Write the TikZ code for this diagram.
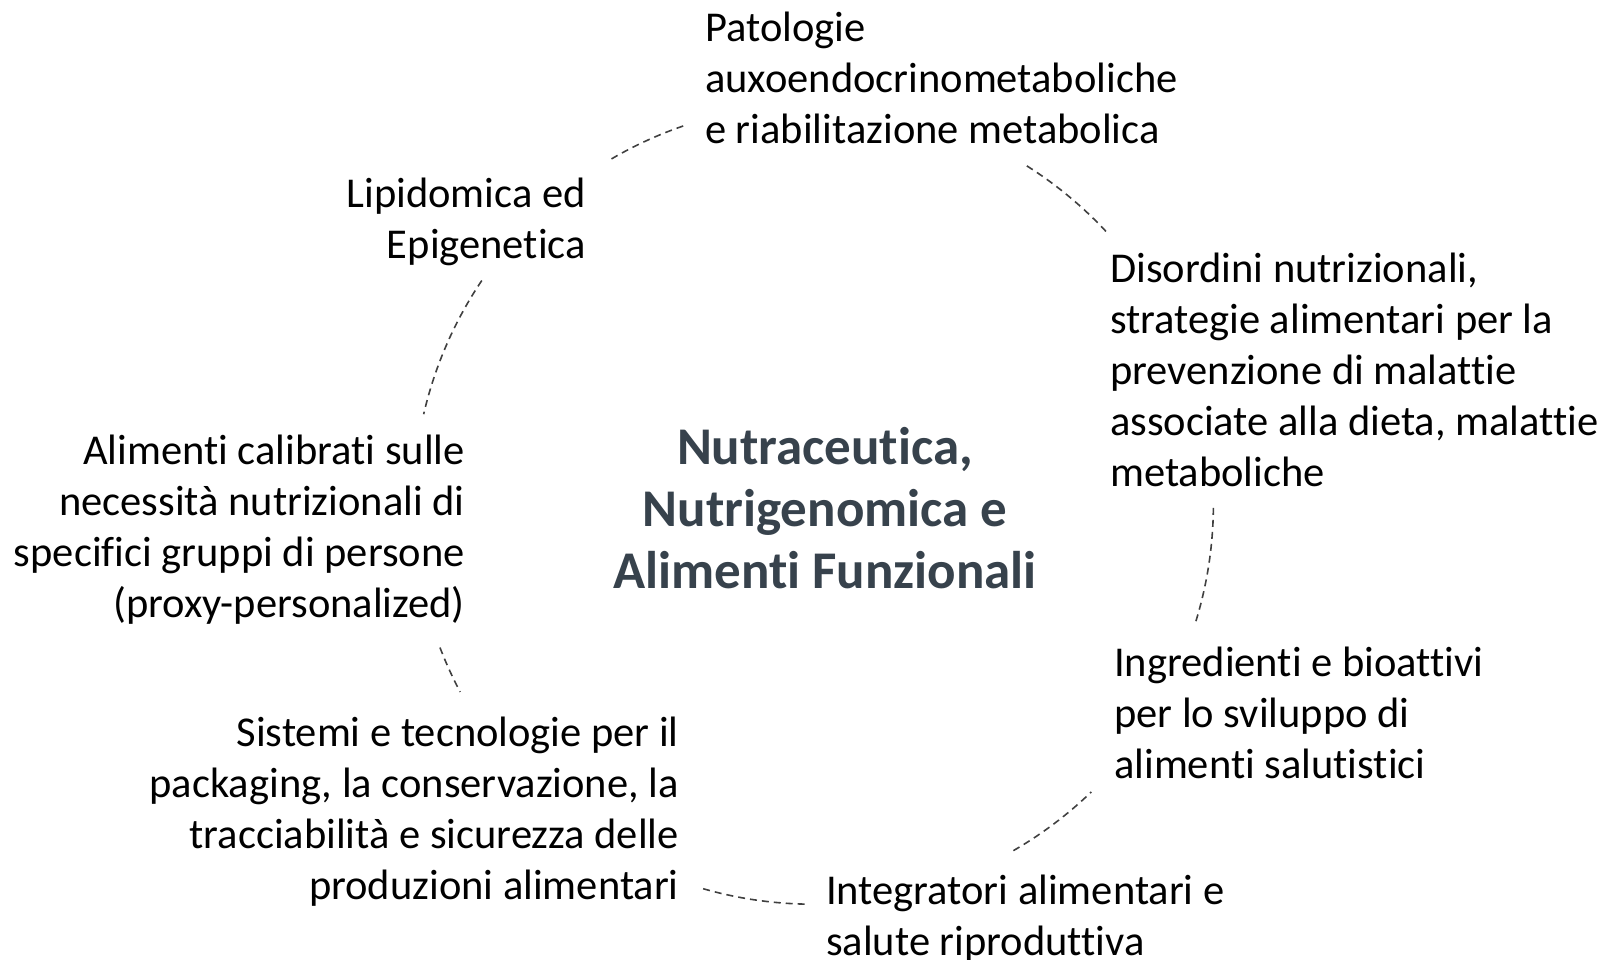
\documentclass[tikz,border=0pt]{standalone}
\usepackage{fontspec}
\setmainfont{Carlito}[Ligatures=NoCommon]
\definecolor{titlegray}{HTML}{37424C}
\definecolor{dashgray}{HTML}{404040}
\begin{document}
\begin{tikzpicture}
	[x=1pt, y=1pt,
	topic/.style = {inner sep=0pt, font={\fontsize{42.5}{51}\selectfont}},
	lefttopic/.style = {topic, align=left, anchor=west},
	righttopic/.style = {topic, align=right, anchor=east},
	core/.style = {inner sep=0pt, align=center, text=titlegray, font={\fontsize{53}{62}\selectfont\bfseries}},
	link/.style = {draw=dashgray, line width=1.6pt, dash pattern=on 7pt off 5pt}]
\useasboundingbox (0,0) rectangle (1602,-960);
\coordinate (c) at (813.4,-504.2);
\node[core] (core) at (825,-508) {Nutraceutica,\\Nutrigenomica e\\Alimenti Funzionali};
\node[lefttopic] (pato) at (705,-78) {Patologie\\auxoendocrinometaboliche\\e riabilitazione metabolica};
\node[lefttopic] (diso) at (1110,-370) {Disordini nutrizionali,\\strategie alimentari per la\\prevenzione di malattie\\associate alla dieta, malattie\\metaboliche};
\node[lefttopic] (ingr) at (1114,-713) {Ingredienti e bioattivi\\per lo sviluppo di\\alimenti salutistici};
\node[lefttopic] (inte) at (826,-919) {Integratori alimentari e\\salute riproduttiva};
\node[righttopic] (sist) at (679,-812) {Sistemi e tecnologie per il\\packaging, la conservazione, la\\tracciabilità e sicurezza delle\\produzioni alimentari};
\node[righttopic] (alim) at (465,-530) {Alimenti calibrati sulle\\necessità nutrizionali di\\specifici gruppi di persone\\(proxy-personalized)};
\node[righttopic] (lipi) at (586,-222) {Lipidomica ed\\Epigenetica};
% dashed ring between the topics
\draw[link] (c) ++(109:400) arc[start angle=109, end angle=121, radius=400];
\draw[link] (c) ++(43:400) arc[start angle=43, end angle=58, radius=400];
\draw[link] (c) ++(-17:400) arc[start angle=-17, end angle=-0.5, radius=400];
\draw[link] (c) ++(-60:400) arc[start angle=-60, end angle=-46, radius=400];
\draw[link] (c) ++(-106:400) arc[start angle=-106, end angle=-91, radius=400];
\draw[link] (c) ++(-159:400) arc[start angle=-159, end angle=-152, radius=400];
\draw[link] (c) ++(146:400) arc[start angle=146, end angle=167, radius=400];
\end{tikzpicture}
\end{document}
